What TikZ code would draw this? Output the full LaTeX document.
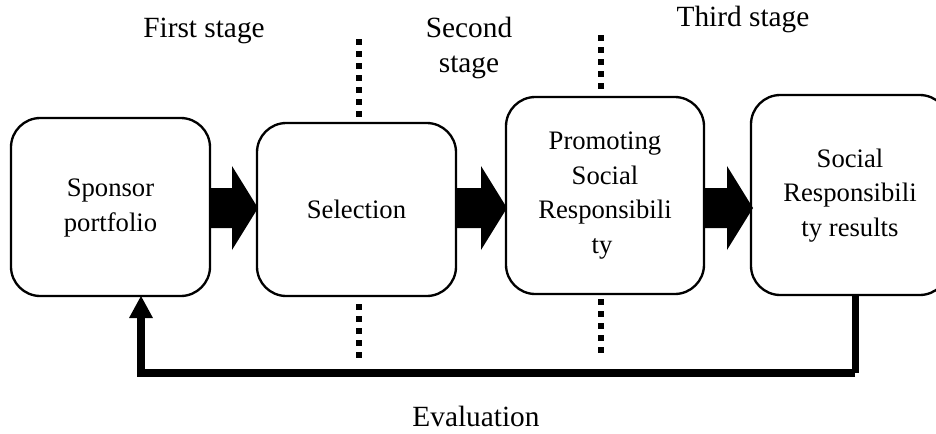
\documentclass[tikz,border=0pt]{standalone}
\usepackage{fontspec}
\setmainfont{Liberation Serif}
\begin{document}
\begin{tikzpicture}[x=0.75pt,y=-0.75pt,
  box/.style={draw=black,line width=1.75pt,rounded corners=22pt,align=center,font=\fontsize{20}{26}\selectfont,inner sep=0pt},
  lbl/.style={align=center,font=\fontsize{22}{26}\selectfont,inner sep=0pt},
  sep/.style={line width=4.5pt,dash pattern=on 4.5pt off 4.5pt},
  fat/.style={fill=black,draw=none},
  back/.style={line width=5.75pt}]
\useasboundingbox (0,0) rectangle (936,433);
\node[box,minimum width=149.25pt,minimum height=133.5pt] (a) at (110.5,207) {\raisebox{-0.75pt}{\begin{tabular}{@{}c@{}}Sponsor\\portfolio\end{tabular}}};
\node[box,minimum width=149.25pt,minimum height=129.75pt] (b) at (356.5,209.5) {Selection};
\node[box,minimum width=148.5pt,minimum height=147.75pt] (c) at (605,195.5) {Promoting\\Social\\Responsibili\\ty\hspace*{4.5pt}};
\node[box,minimum width=148.5pt,minimum height=150pt] (d) at (850,195) {\raisebox{-1.5pt}{\begin{tabular}{@{}c@{}}Social\\Responsibili\\ty results\end{tabular}}};
\node[lbl] (s1) at (204,31) {First stage};
\node[lbl] (s2) at (469,48) {Second\\stage};
\node[lbl] (s3) at (743,19) {Third stage};
\node[lbl] (ev) at (476,416) {Evaluation};
\coordinate (t1) at (358.5,39); \coordinate (t1e) at (358.5,117);
\coordinate (b1) at (358.5,304); \coordinate (b1e) at (358.5,358);
\coordinate (t2) at (601,35); \coordinate (t2e) at (601,89);
\coordinate (b2) at (601,299); \coordinate (b2e) at (601,353);
\draw[sep] (t1) -- (t1e); \draw[sep] (b1) -- (b1e);
\draw[sep] (t2) -- (t2e); \draw[sep] (b2) -- (b2e);
\fill[fat] (210,188) -- (232,188) -- (232,166) -- (258,208) -- (232,250) -- (232,228) -- (210,228) -- cycle;
\fill[fat] (456,188) -- (481,188) -- (481,166) -- (507,208) -- (481,250) -- (481,228) -- (456,228) -- cycle;
\fill[fat] (704,188) -- (727,188) -- (727,166) -- (753,208) -- (727,250) -- (727,228) -- (704,228) -- cycle;
\coordinate (ds) at (855.5,295);
\coordinate (dc) at (855.5,373);
\coordinate (hr) at (855,373);
\coordinate (hl) at (141,373);
\coordinate (ab) at (141,317);
\draw[back] (ds) -- (dc);
\draw[back] (hr) -- (hl) -- (ab);
\fill[fat] (141,296) -- (153,318) -- (129,318) -- cycle;
\end{tikzpicture}
\end{document}
